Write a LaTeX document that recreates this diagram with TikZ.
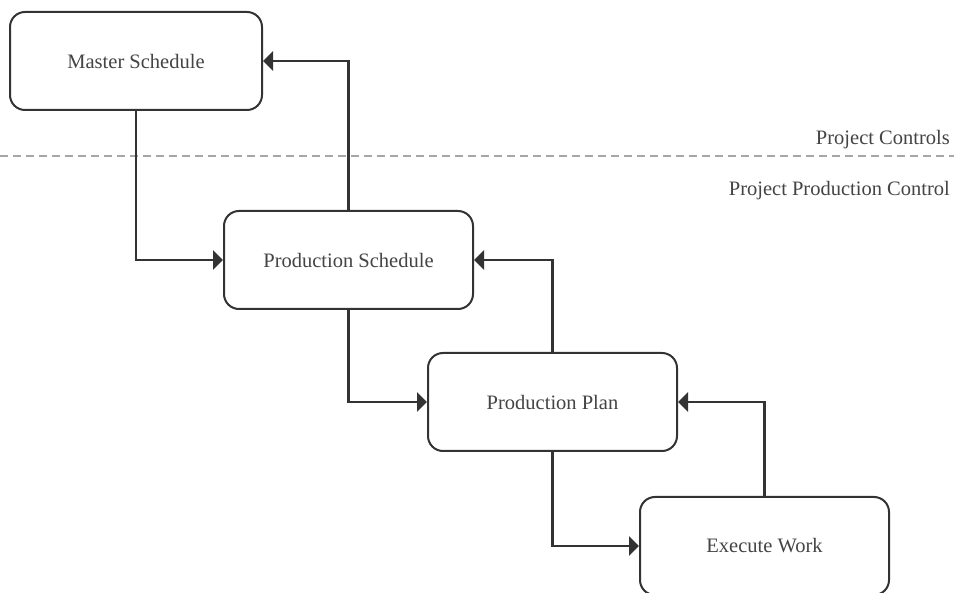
\documentclass[tikz,border=0pt]{standalone}
\usepackage{fontspec}
\setmainfont{Liberation Serif}
\usetikzlibrary{arrows.meta}
\definecolor{ink}{HTML}{333333}
\definecolor{txt}{HTML}{444444}
\begin{document}
\begin{tikzpicture}[x=1pt,y=-1pt,
  stage/.style={draw=ink,line width=2pt,rounded corners=15pt,minimum width=249pt,minimum height=98pt,inner sep=0pt,text=txt,font=\fontsize{20.5}{24}\selectfont,fill=white},
  flow/.style={draw=ink,line width=2.6pt,-{Triangle[length=10pt,width=19pt]}},
  lbl/.style={text=txt,font=\fontsize{20.5}{24}\selectfont,anchor=east,inner sep=0pt}]
\useasboundingbox (0,0) rectangle (954,593);
\fill[white] (0,0) rectangle (954,593);
\begin{scope}
\clip (0,0) rectangle (954,593);
\draw[gray!70,line width=1.6pt,dash pattern=on 8pt off 5pt] (0,156) -- (954,156);
\node[lbl] (pc) at (950,140) {Project Controls};
\node[lbl] (ppc) at (950,191) {Project Production Control};
\node[stage,minimum width=252pt] (ms) at (136,61) {Master Schedule};
\node[stage] (ps) at (348.5,260) {Production Schedule};
\node[stage] (pp) at (552.5,402) {Production Plan};
\node[stage] (ew) at (764.5,546) {Execute Work};
\draw[flow] (ms.south) |- (ps.west);
\draw[flow] (ps.north) |- (ms.east);
\draw[flow] (ps.south) |- (pp.west);
\draw[flow] (pp.north) |- (ps.east);
\draw[flow] (pp.south) |- (ew.west);
\draw[flow] (ew.north) |- (pp.east);
\end{scope}
\end{tikzpicture}
\end{document}
